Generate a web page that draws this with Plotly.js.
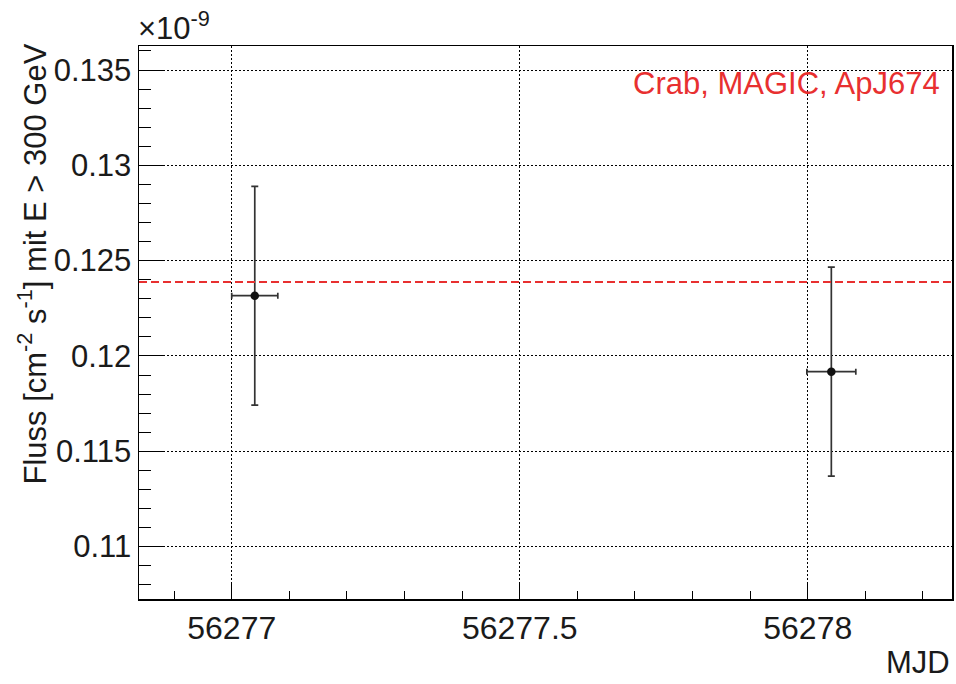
<!DOCTYPE html>
<html>
<head>
<meta charset="utf-8">
<script src="https://cdn.plot.ly/plotly-3.0.1.min.js"></script>
<style>
  html, body { margin: 0; padding: 0; background: #ffffff; }
  #chart { width: 956px; height: 684px; }
</style>
</head>
<body>
<div id="chart"></div>
<script>
// Data (flux in units of 1e-9 cm^-2 s^-1)
const mjd = [56277.04, 56278.041];
const mjdErr = [0.04, 0.0425];
const flux = [0.12316, 0.119176];
const fluxErr = [0.00574, 0.00548];
const refFlux = 0.12388;
const refLabel = "Crab, MAGIC, ApJ674";
const xRange = [56276.839, 56278.2505];
const yRange = [0.10725, 0.13626];

const FONT = '"Liberation Sans", Arial, Helvetica, sans-serif';
const RED = '#e83030';

const traces = [
  {
    x: mjd,
    y: flux,
    type: 'scatter',
    mode: 'markers',
    marker: { color: '#111111', size: 8.5, symbol: 'circle' },
    error_x: { type: 'data', array: mjdErr, visible: true, color: '#333333', thickness: 1.7, width: 3 },
    error_y: { type: 'data', array: fluxErr, visible: true, color: '#333333', thickness: 1.7, width: 3.5 },
    showlegend: false,
    hoverinfo: 'x+y'
  }
];

const layout = {
  width: 956,
  height: 684,
  margin: { l: 139, r: 4, t: 46, b: 85, pad: 0 },
  paper_bgcolor: '#ffffff',
  plot_bgcolor: '#ffffff',
  separators: '.',
  font: { family: FONT, size: 31, color: '#000000' },
  showlegend: false,
  xaxis: {
    range: xRange,
    tick0: 56277,
    dtick: 0.5,
    tickformat: '.1~f',
    ticks: 'inside',
    ticklen: 16,
    tickwidth: 1,
    tickcolor: '#000000',
    exponentformat: 'none',
    separatethousands: false,
    showline: true,
    linecolor: '#000000',
    linewidth: 1.5,
    mirror: true,
    showgrid: true,
    gridcolor: '#000000',
    gridwidth: 1,
    griddash: '2px,2px',
    zeroline: false,
    tickfont: { family: FONT, size: 32, color: '#1a1a1a' },
    minor: { tick0: 56277, dtick: 0.1, ticks: 'inside', ticklen: 8, tickwidth: 1, tickcolor: '#000000', showgrid: false }
  },
  yaxis: {
    range: yRange,
    tick0: 0.11,
    dtick: 0.005,
    ticks: 'inside',
    ticklen: 24,
    tickwidth: 1,
    tickcolor: '#000000',
    exponentformat: 'none',
    showline: true,
    linecolor: '#000000',
    linewidth: 1.5,
    mirror: true,
    showgrid: true,
    gridcolor: '#000000',
    gridwidth: 1,
    griddash: '2px,2px',
    zeroline: false,
    tickfont: { family: FONT, size: 31, color: '#1a1a1a' },
    minor: { tick0: 0.11, dtick: 0.001, ticks: 'inside', ticklen: 12, tickwidth: 1, tickcolor: '#000000', showgrid: false }
  },
  shapes: [
    {
      type: 'line', xref: 'paper', yref: 'y',
      x0: 0, x1: 1, y0: refFlux, y1: refFlux,
      line: { color: RED, width: 2, dash: '8px,4px' }
    }
  ],
  annotations: [
    {
      text: 'Fluss [cm<sup>-2</sup> s<sup>-1</sup>] mit E &gt; 300 GeV',
      xref: 'paper', yref: 'paper', x: 0, y: 1,
      xanchor: 'center', yanchor: 'top',
      xshift: -107, yshift: 4,
      textangle: -90, showarrow: false,
      font: { family: FONT, size: 31, color: '#1a1a1a' }
    },
    {
      text: '×10<sup>-9</sup>',
      xref: 'paper', yref: 'paper', x: 0, y: 1,
      xanchor: 'left', yanchor: 'bottom',
      xshift: -3, yshift: -2,
      showarrow: false,
      font: { family: FONT, size: 31, color: '#1a1a1a' }
    },
    {
      text: 'MJD',
      xref: 'paper', yref: 'paper', x: 1, y: 0,
      xanchor: 'right', yanchor: 'top',
      xshift: 0, yshift: -44,
      showarrow: false,
      font: { family: FONT, size: 31, color: '#1a1a1a' }
    },
    {
      text: refLabel,
      xref: 'paper', yref: 'paper', x: 1, y: 1,
      xanchor: 'right', yanchor: 'top',
      xshift: -10, yshift: -18,
      showarrow: false,
      font: { family: FONT, size: 31, color: RED }
    }
  ]
};

Plotly.newPlot('chart', traces, layout, { staticPlot: true, displayModeBar: false });
</script>
</body>
</html>
